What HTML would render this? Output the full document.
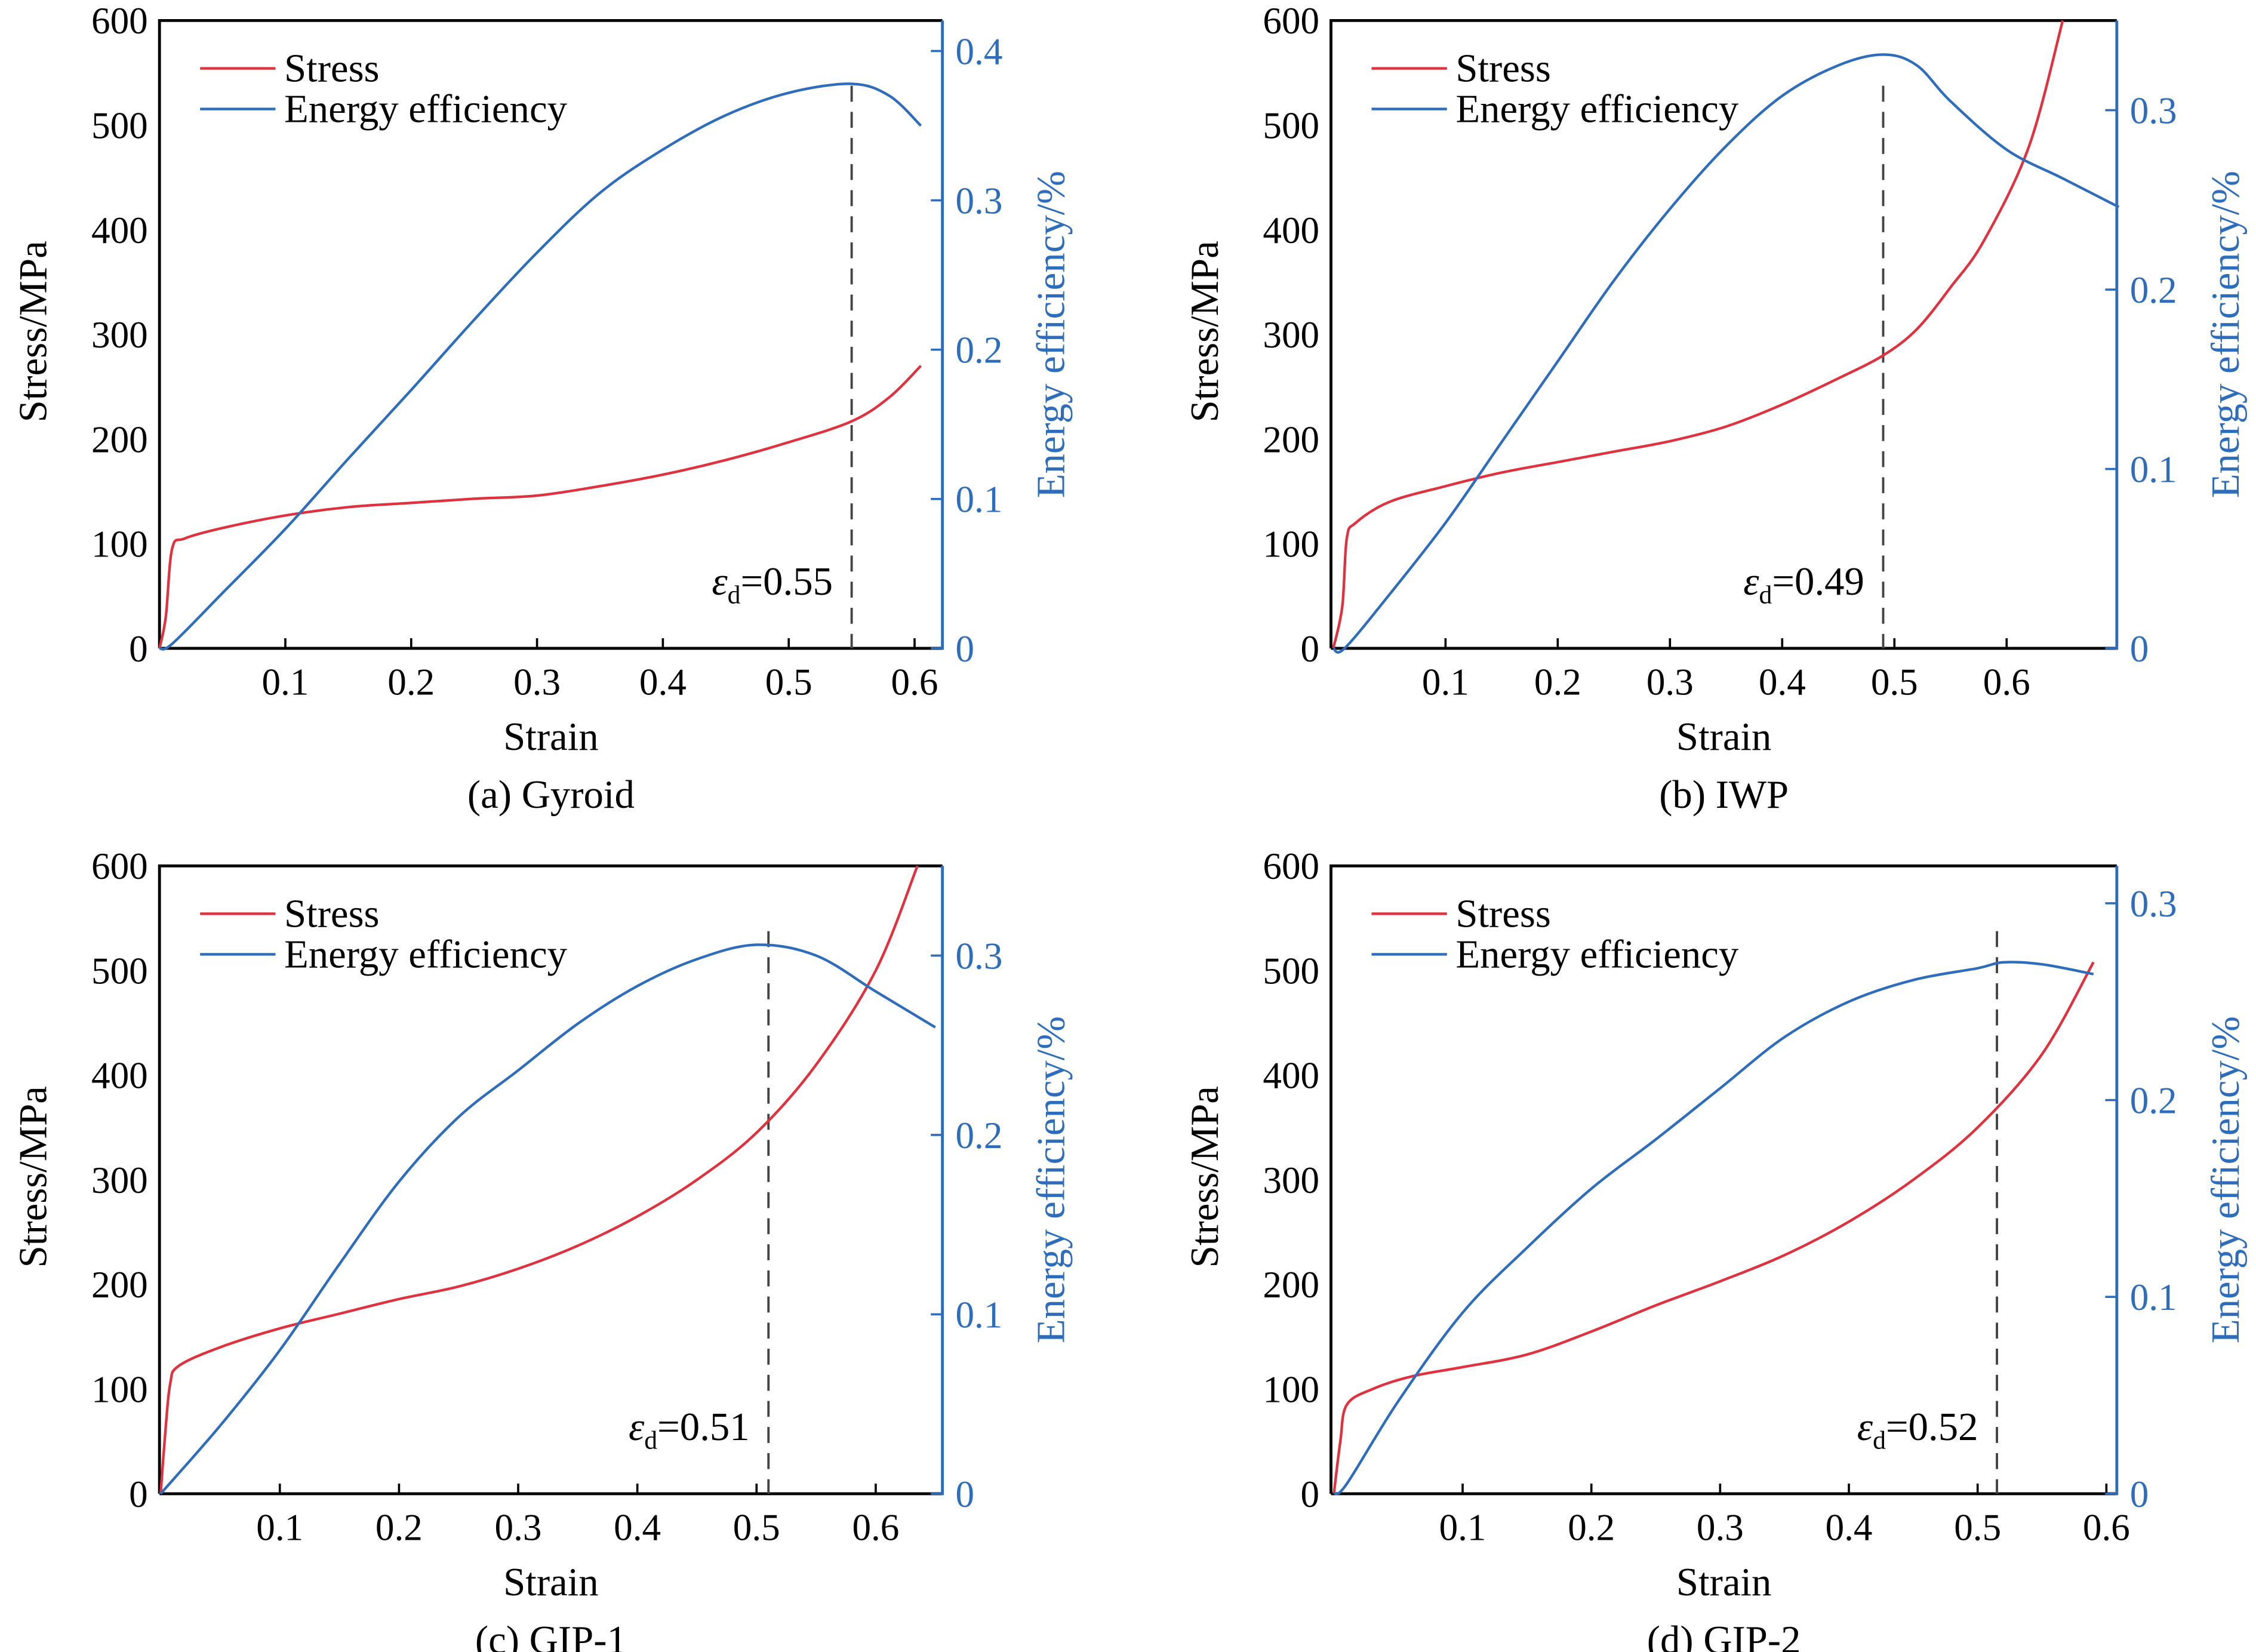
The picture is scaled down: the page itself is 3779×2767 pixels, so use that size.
<!DOCTYPE html>
<html><head><meta charset="utf-8"><style>
html,body{margin:0;padding:0;background:#fff;}
svg{display:block;}
text{font-family:"Liberation Serif",serif;}
</style></head><body>
<svg id="fig" width="3779" height="2767" viewBox="0 0 1556 1139" xmlns="http://www.w3.org/2000/svg"></svg>
<script>
// ---- data ----
const aStrainS=[0,0.005,0.01,0.02,0.05,0.1,0.15,0.2,0.25,0.3,0.35,0.4,0.45,0.5,0.55,0.58,0.605];
const aStress=[0,30,95,105,115,127,135,139,143,146,155,166,180,197,217,240,270];
const aStrainE=[0,0.01,0.05,0.1,0.15,0.2,0.25,0.3,0.35,0.4,0.45,0.5,0.55,0.58,0.605];
const aEnergy=[0,0.003,0.037,0.08,0.127,0.173,0.22,0.265,0.305,0.334,0.357,0.372,0.378,0.37,0.35];

const bStrainS=[0,0.008,0.012,0.02,0.05,0.1,0.15,0.2,0.25,0.3,0.35,0.4,0.45,0.49,0.52,0.55,0.58,0.62,0.65];
const bStress=[0,40,105,120,140,155,168,178,188,198,212,233,258,280,305,345,390,480,600];
const bStrainE=[0,0.01,0.05,0.1,0.15,0.2,0.25,0.3,0.35,0.4,0.45,0.49,0.52,0.55,0.6,0.65,0.7];
const bEnergy=[0,0,0.03,0.07,0.115,0.16,0.205,0.245,0.28,0.308,0.325,0.331,0.325,0.305,0.278,0.262,0.246];

const cStrainS=[0,0.004,0.008,0.015,0.05,0.1,0.15,0.2,0.25,0.3,0.35,0.4,0.45,0.5,0.55,0.6,0.635];
const cStress=[0,60,105,122,140,158,172,186,198,215,237,265,300,345,410,500,600];
const cStrainE=[0,0.05,0.1,0.15,0.2,0.25,0.3,0.35,0.4,0.45,0.5,0.55,0.6,0.65];
const cEnergy=[0,0.038,0.08,0.128,0.174,0.21,0.236,0.262,0.283,0.298,0.306,0.3,0.28,0.26];

const dStrainS=[0,0.005,0.01,0.03,0.06,0.1,0.15,0.2,0.25,0.3,0.35,0.4,0.45,0.5,0.55,0.59];
const dStress=[0,50,85,100,112,121,133,155,180,203,228,260,300,350,420,508];
const dStrainE=[0,0.01,0.05,0.1,0.15,0.2,0.25,0.3,0.35,0.4,0.45,0.5,0.52,0.55,0.59];
const dEnergy=[0,0.005,0.047,0.092,0.125,0.155,0.18,0.206,0.232,0.25,0.261,0.267,0.27,0.269,0.264];

const xTicks=["0.1","0.2","0.3","0.4","0.5","0.6"];
const xTickVals=[0.1,0.2,0.3,0.4,0.5,0.6];
const yTickVals=[0,100,200,300,400,500,600];
const aRTicks=[0,0.1,0.2,0.3,0.4];
const bRTicks=[0,0.1,0.2,0.3];
const cRTicks=[0,0.1,0.2,0.3];
const dRTicks=[0,0.1,0.2,0.3];
const captions=["(a) Gyroid","(b) IWP","(c) GIP-1","(d) GIP-2"];
const densStrain=[0.55,0.49,0.51,0.515];
const densLabel=["0.55","0.49","0.51","0.52"];

const NS="http://www.w3.org/2000/svg";
const svg=document.getElementById('fig');
const RED="#e0323e",BLUE="#2e6dbb";
const FT=26, FL=27.5;
function mk(tag,attrs,parent){const e=document.createElementNS(NS,tag);for(const k in attrs)e.setAttribute(k,attrs[k]);(parent||svg).appendChild(e);return e;}
function smoothPath(pts){let d="M"+pts[0][0]+","+pts[0][1];for(let i=0;i<pts.length-1;i++){const p0=pts[i-1]||pts[i],p1=pts[i],p2=pts[i+1],p3=pts[i+2]||p2;const c1=[p1[0]+(p2[0]-p0[0])/6,p1[1]+(p2[1]-p0[1])/6],c2=[p2[0]-(p3[0]-p1[0])/6,p2[1]-(p3[1]-p1[1])/6];d+=" C"+c1+" "+c2+" "+p2;}return d;}

const panels=[
 {L:110,R:650,T:14,B:447,x0:110,xper:868,rt:aRTicks,sx:aStrainS,sy:aStress,ex:aStrainE,ey:aEnergy,rmaxv:0.4204},
 {L:918,R:1460,T:14,B:447,x0:919.6,xper:774,rt:bRTicks,sx:bStrainS,sy:bStress,ex:bStrainE,ey:bEnergy,rmaxv:0.35},
 {L:110,R:650,T:597,B:1030,x0:110.8,xper:822,rt:cRTicks,sx:cStrainS,sy:cStress,ex:cStrainE,ey:cEnergy,rmaxv:0.35},
 {L:918,R:1460,T:597,B:1030,x0:920,xper:888,rt:dRTicks,sx:dStrainS,sy:dStress,ex:dStrainE,ey:dEnergy,rmaxv:0.319}
];
const ids=["a","b","c","d"];
panels.forEach((p,i)=>{
 const g=mk('g',{});
 
 
 const X=v=>p.x0+v*p.xper, Y=v=>p.B-v/600*(p.B-p.T), YR=v=>p.B-v/p.rmaxv*(p.B-p.T);
 const fr=mk('path',{d:`M${p.L},${p.B}V${p.T}H${p.R}`,fill:'none',stroke:'#000','stroke-width':2},g);
 
 const xa=mk('line',{x1:p.L,y1:p.B,x2:p.R,y2:p.B,stroke:'#000','stroke-width':2},g);
 
 const ra=mk('line',{x1:p.R,y1:p.T,x2:p.R,y2:p.B+1,stroke:BLUE,'stroke-width':2},g);
 
 xTickVals.forEach((v,j)=>{
  mk('line',{x1:X(v),x2:X(v),y1:p.B,y2:p.B-7,stroke:'#000','stroke-width':1.5},g);
  const t=mk('text',{x:X(v),y:p.B+32,'text-anchor':'middle','font-size':FT},g);t.textContent=xTicks[j];
  
 });
 yTickVals.forEach(v=>{
  const t=mk('text',{x:p.L-8,y:Y(v)+9,'text-anchor':'end','font-size':FT},g);t.textContent=v;
  
 });
 p.rt.forEach(v=>{
  mk('line',{x1:p.R,x2:p.R-8,y1:YR(v),y2:YR(v),stroke:BLUE,'stroke-width':1.5},g);
  const t=mk('text',{x:p.R+9,y:YR(v)+9,'font-size':FT,fill:BLUE},g);t.textContent=v===0?"0":String(v);
  
 });
 const cx=(p.L+p.R)/2, cy=(p.T+p.B)/2;
 let t=mk('text',{x:cx,y:p.B+70,'text-anchor':'middle','font-size':FL},g);t.textContent="Strain";
 
 t=mk('text',{x:cx,y:p.B+110,'text-anchor':'middle','font-size':FL},g);t.textContent=captions[i];
 
 t=mk('text',{x:0,y:0,'text-anchor':'middle','font-size':FL,transform:`translate(${p.L-78},${cy-2}) rotate(-90)`},g);t.textContent="Stress/MPa";
 
 t=mk('text',{x:0,y:0,'text-anchor':'middle','font-size':FL,fill:BLUE,transform:`translate(${p.R+84},${cy}) rotate(-90)`},g);t.textContent="Energy efficiency/%";
 
 const dx=X(densStrain[i]);
 const dl=mk('line',{x1:dx,x2:dx,y1:p.T+45,y2:p.B,stroke:'#444','stroke-width':1.6,'stroke-dasharray':'11,7'},g);
 
 t=mk('text',{x:dx-13,y:p.B-37,'text-anchor':'end','font-size':FL},g);
 
 const ts1=mk('tspan',{'font-style':'italic'},t);ts1.textContent="ε";
 const ts2=mk('tspan',{'font-size':18,dy:6},t);ts2.textContent="d";
 const ts3=mk('tspan',{dy:-6},t);ts3.textContent="="+densLabel[i];
 const sp=mk('path',{d:smoothPath(p.sx.map((v,k)=>[X(v),Y(p.sy[k])])),fill:'none',stroke:RED,'stroke-width':1.8},g);
 
 const ep=mk('path',{d:smoothPath(p.ex.map((v,k)=>[X(v),YR(p.ey[k])])),fill:'none',stroke:BLUE,'stroke-width':1.8},g);
 
 const lg=mk('g',{},g);
 
 mk('line',{x1:p.L+28,x2:p.L+80,y1:p.T+33,y2:p.T+33,stroke:RED,'stroke-width':1.8},lg);
 t=mk('text',{x:p.L+86,y:p.T+42,'font-size':FL},lg);t.textContent="Stress";
 
 mk('line',{x1:p.L+28,x2:p.L+80,y1:p.T+61,y2:p.T+61,stroke:BLUE,'stroke-width':1.8},lg);
 t=mk('text',{x:p.L+86,y:p.T+70,'font-size':FL},lg);t.textContent="Energy efficiency";
 
});
</script>
</body></html>
